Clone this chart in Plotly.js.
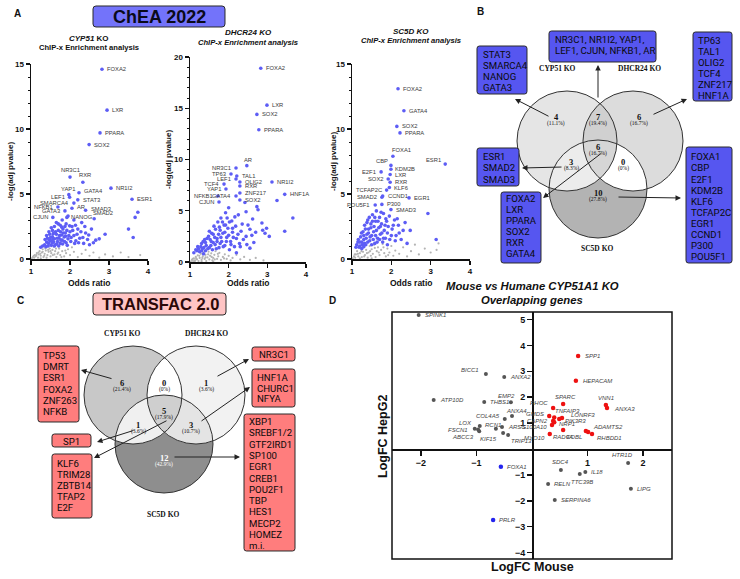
<!DOCTYPE html>
<html><head><meta charset="utf-8">
<script src="https://cdn.plot.ly/plotly-3.0.1.min.js"></script>
<style>html,body{margin:0;padding:0;background:#fff}#plot{width:740px;height:579px}</style>
</head><body><div id="plot"></div>
<script>
// ================= DATA =================
// Panel A1: CYP51 KO (ChEA 2022)
const cypLabNames = ['FOXA2','LXR','PPARA','SOX2','NR3C1','RXR','NR1I2','GATA4','YAP1','LEF1','STAT3','SMARCA4','NFKB1','AR','SMAD3','SMAD2','GATA3','CJUN','NANOG','ESR1'];
const cypLabX = [2.82,2.95,2.77,2.49,2.00,2.33,3.05,2.23,1.97,1.99,2.20,2.10,1.69,2.05,2.40,2.62,1.87,1.56,1.92,3.59];
const cypLabY = [14.6,11.45,9.7,8.8,6.3,5.9,5.45,5.1,4.95,4.75,4.55,4.3,4.0,3.9,3.75,3.1,3.7,3.2,3.2,4.6];
const cypBlue = [[1.25,0.9],[1.3,1.0],[1.35,1.1],[1.38,0.95],[1.4,1.3],[1.42,1.6],[1.45,1.2],[1.48,1.9],[1.5,1.4],[1.52,1.05],[1.55,2.2],[1.55,1.7],[1.58,1.3],[1.6,2.5],[1.6,1.55],[1.62,1.1],[1.65,1.9],[1.65,2.8],[1.68,1.35],[1.7,2.2],[1.72,1.6],[1.75,1.2],[1.75,2.6],[1.78,1.85],[1.8,3.0],[1.8,1.45],[1.82,2.3],[1.85,1.7],[1.88,2.0],[1.9,1.25],[1.9,2.7],[1.95,1.55],[1.95,3.3],[2.0,2.1],[2.02,1.35],[2.05,2.5],[2.1,1.8],[2.1,3.0],[2.15,1.4],[2.2,2.3],[2.25,1.6],[2.3,2.8],[2.35,1.2],[2.4,2.0],[2.45,1.5],[2.55,2.3],[2.6,1.25],[2.66,1.45],[2.75,1.55],[2.9,1.9],[3.74,3.6],[3.67,3.2],[3.5,2.3],[3.62,1.65],
  [1.36,1.5],[1.4,1.8],[1.44,1.0],[1.46,2.1],[1.5,1.65],[1.52,2.4],[1.54,1.25],[1.57,1.95],[1.6,1.0],[1.63,2.1],[1.66,1.15],[1.67,1.6],[1.7,2.7],[1.71,1.0],[1.73,1.8],[1.76,2.1],[1.77,1.45],[1.79,2.45],[1.81,1.15],[1.83,2.0],[1.86,1.35],[1.87,2.5],[1.89,1.75],[1.92,2.2],[1.93,1.05],[1.97,1.8],[1.99,2.55],[2.03,1.65],[2.07,2.2],[2.12,1.2],[2.14,2.6],[2.18,1.9],[2.22,1.25],[2.28,2.1],[2.33,1.65],[2.38,2.5],[2.48,1.85],[2.5,1.1],[1.47,1.45],[1.56,1.5]];
const cypGray = [[1.02,0.05],[1.05,0.15],[1.08,0.1],[1.1,0.3],[1.12,0.2],[1.15,0.45],[1.18,0.1],[1.2,0.35],[1.22,0.6],[1.25,0.25],[1.28,0.5],[1.3,0.75],[1.32,0.15],[1.35,0.4],[1.38,0.65],[1.4,0.9],[1.42,0.3],[1.45,0.55],[1.48,0.8],[1.5,0.2],[1.52,0.45],[1.55,0.7],[1.58,0.95],[1.6,0.35],[1.62,0.6],[1.65,0.15],[1.7,0.5],[1.72,0.8],[1.75,0.3],[1.8,0.6],[1.85,0.2],[1.9,0.45],[1.95,0.75],[2.0,0.3],[2.05,0.9],[2.1,0.55],[2.2,0.15],[2.3,0.4],[2.4,0.7],[2.5,0.25],[2.6,0.5],[2.75,0.1],[2.9,0.35],[3.1,0.2],[3.3,0.5],[3.5,0.15],[3.8,0.3],[1.25,0.05],[1.4,0.1],
  [1.07,0.25],[1.14,0.3],[1.19,0.5],[1.24,0.4],[1.3,0.55],[1.34,0.25],[1.37,0.8],[1.44,0.7],[1.5,0.6],[1.56,0.3],[1.64,0.8],[1.68,0.4],[1.78,0.15],[1.88,0.65]];

// Panel A2: DHCR24 KO
const dhcLabNames = ['FOXA2','LXR','SOX2','PPARA','NR1I2','HNF1A','AR','NR3C1','TP63','TAL1','LEF1','OLIG2','TCF4','RXR','YAP1','ZNF217','NFKB1','GATA4','SOX2','CJUN'];
const dhcLabX = [2.83,2.99,2.73,2.78,3.12,3.45,2.47,2.19,2.06,2.21,2.19,2.29,1.88,2.29,1.93,2.29,1.72,2.19,2.29,1.75];
const dhcLabY = [18.9,15.3,14.4,12.9,7.8,6.6,9.4,9.17,8.59,8.39,8.1,7.8,7.6,7.41,7.12,6.73,6.44,6.44,6.05,5.85];
const dhcBlue = [[1.1,0.9],[1.15,1.2],[1.2,1.5],[1.25,1.0],[1.3,1.8],[1.32,1.3],[1.35,0.8],[1.38,2.2],[1.4,1.1],[1.42,1.6],[1.48,2.5],[1.5,1.4],[1.5,3.0],[1.55,2.0],[1.58,1.2],[1.6,2.7],[1.62,3.5],[1.65,1.7],[1.7,2.3],[1.72,3.9],[1.75,1.4],[1.78,3.1],[1.8,4.3],[1.82,2.0],[1.85,2.8],[1.88,3.6],[1.9,1.6],[1.92,4.8],[1.95,2.4],[1.98,3.3],[2.0,5.3],[2.02,1.2],[2.05,2.0],[2.08,4.0],[2.1,2.9],[2.15,1.5],[2.18,3.5],[2.2,2.3],[2.2,0.9],[2.25,4.6],[2.28,1.8],[2.32,3.0],[2.38,2.2],[2.42,5.8],[2.45,4.9],[2.5,3.6],[2.55,1.35],[2.47,1.7],[2.6,2.6],[2.62,4.2],[2.73,5.4],[2.76,5.1],[2.86,3.8],[2.88,3.1],[2.94,2.8],[2.98,3.3],[3.05,2.5],[3.25,6.0],[3.66,4.3],[3.45,3.0],
  [1.18,1.1],[1.22,1.3],[1.28,1.5],[1.3,1.1],[1.34,2.0],[1.36,1.4],[1.4,1.9],[1.44,2.3],[1.46,1.3],[1.52,2.2],[1.54,1.6],[1.56,2.8],[1.6,1.9],[1.64,2.4],[1.66,3.2],[1.68,1.3],[1.7,2.0],[1.74,2.7],[1.76,3.4],[1.78,1.8],[1.8,2.4],[1.84,3.9],[1.86,1.5],[1.9,2.9],[1.92,3.6],[1.94,2.0],[1.96,4.3],[2.0,2.6],[2.02,3.9],[2.06,1.7],[2.1,3.3],[2.12,2.4],[2.16,4.4],[2.24,2.7],[2.3,1.5],[2.35,3.7],[2.45,2.5],[2.55,3.2],[2.65,1.9],[2.7,2.9]];
const dhcGray = [[1.02,0.05],[1.05,0.2],[1.08,0.1],[1.1,0.35],[1.13,0.15],[1.15,0.5],[1.18,0.25],[1.2,0.65],[1.22,0.1],[1.25,0.4],[1.28,0.8],[1.3,0.2],[1.33,0.55],[1.35,0.95],[1.38,0.3],[1.4,0.7],[1.42,0.1],[1.45,0.45],[1.48,1.0],[1.5,0.25],[1.52,0.6],[1.55,0.85],[1.58,0.15],[1.6,0.4],[1.63,0.7],[1.66,1.05],[1.7,0.3],[1.73,0.55],[1.76,0.9],[1.8,0.2],[1.85,0.5],[1.9,0.75],[1.95,0.3],[2.0,0.6],[2.05,0.15],[2.1,0.4],[2.2,0.7],[2.3,0.25],[2.4,0.5],[2.55,0.2],[2.7,0.4],[2.9,0.15],[1.12,0.05],[1.3,0.05],[1.6,0.05],
  [1.07,0.3],[1.16,0.35],[1.24,0.6],[1.32,0.4],[1.4,0.45],[1.47,0.75],[1.56,0.5],[1.64,0.25],[1.72,0.8],[1.88,0.35]];

// Panel A3: SC5D KO
const scLabNames = ['FOXA2','GATA4','SOX2','PPARA','FOXA1','ESR1','CBP','KDM2B','E2F1','LXR','SOX2','RXR','KLF6','TCFAP2C','CCND1','SMAD2','EGR1','P300','POU5F1','SMAD3'];
const scLabX = [2.17,2.32,2.14,2.22,2.04,3.37,1.99,1.99,1.74,1.97,1.92,1.97,1.95,1.88,1.78,1.76,2.45,1.76,1.59,1.99];
const scLabY = [13.1,11.4,10.2,9.7,7.9,7.3,7.2,6.9,6.7,6.5,6.15,5.9,5.5,5.3,4.85,4.75,4.7,4.2,4.15,3.8];
const scBlue = [[1.1,0.9],[1.15,1.3],[1.2,1.0],[1.22,1.7],[1.25,1.3],[1.25,0.8],[1.28,2.1],[1.3,1.5],[1.32,2.6],[1.35,1.1],[1.38,1.9],[1.4,3.0],[1.42,2.3],[1.45,1.4],[1.48,2.7],[1.5,1.8],[1.52,3.4],[1.55,2.1],[1.58,1.2],[1.6,2.9],[1.62,3.7],[1.65,1.6],[1.68,2.4],[1.7,3.2],[1.72,1.9],[1.75,2.7],[1.78,1.3],[1.8,3.5],[1.82,2.2],[1.85,1.6],[1.88,2.9],[1.9,1.1],[1.92,2.5],[1.95,3.3],[2.0,1.8],[2.05,2.6],[2.1,1.4],[2.15,3.1],[2.2,2.0],[2.25,1.5],[2.35,2.8],[2.4,1.2],[2.48,2.2],[2.93,3.5],[3.14,1.5],
  [1.12,1.1],[1.16,1.5],[1.18,0.9],[1.2,1.3],[1.24,2.0],[1.26,1.1],[1.3,1.8],[1.32,1.2],[1.34,2.3],[1.36,1.6],[1.38,2.8],[1.4,1.3],[1.42,2.0],[1.44,3.2],[1.46,1.7],[1.48,2.4],[1.5,1.1],[1.52,2.9],[1.54,1.5],[1.56,2.5],[1.58,3.2],[1.6,1.8],[1.62,2.2],[1.64,1.3],[1.66,2.9],[1.7,1.5],[1.72,2.5],[1.74,3.6],[1.76,2.0],[1.8,1.6],[1.84,2.6],[1.86,3.1],[1.9,2.0],[1.96,1.5],[2.02,2.3],[2.08,3.0],[2.12,1.8],[2.3,2.2],[2.18,2.6],[1.3,0.95]];
const scGray = [[1.02,0.05],[1.05,0.2],[1.08,0.1],[1.1,0.35],[1.13,0.6],[1.16,0.2],[1.2,0.45],[1.22,0.8],[1.25,0.15],[1.28,0.55],[1.3,0.95],[1.33,0.3],[1.36,0.7],[1.4,0.1],[1.42,0.5],[1.45,1.0],[1.48,0.25],[1.5,0.75],[1.53,0.4],[1.56,1.1],[1.6,0.15],[1.63,0.6],[1.66,0.9],[1.7,0.3],[1.74,0.7],[1.78,1.15],[1.82,0.45],[1.86,0.2],[1.9,0.8],[1.95,0.5],[2.0,1.0],[2.05,0.25],[2.1,0.65],[2.2,0.4],[2.3,0.9],[2.4,0.2],[2.5,0.6],[2.6,1.1],[2.7,0.35],[2.85,0.8],[3.0,0.5],[3.15,0.7],[3.2,1.2],[1.2,0.05],[1.5,0.05],
  [1.07,0.35],[1.15,0.4],[1.24,0.6],[1.31,0.2],[1.38,0.45],[1.46,0.6],[1.58,0.85],[1.68,0.5],[1.8,0.9],[1.92,0.3]];

// Panel B: ChEA Venn
const bCyp = ['STAT3','SMARCA4','NANOG','GATA3'];
const bCypDhcr = ['NR3C1, NR1I2, YAP1,','LEF1, CJUN, NFKB1, AR'];
const bDhcr = ['TP63','TAL1','OLIG2','TCF4','ZNF217','HNF1A'];
const bCypSc = ['ESR1','SMAD2','SMAD3'];
const bAll = ['FOXA2','LXR','PPARA','SOX2','RXR','GATA4'];
const bSc = ['FOXA1','CBP','E2F1','KDM2B','KLF6','TCFAP2C','EGR1','CCND1','P300','POU5F1'];
const bNums = ['4','7','6','6','3','0','10'];
const bPcts = ['(11.1%)','(19.4%)','(16.7%)','(16.7%)','(8.3%)','(0%)','(27.8%)'];
const setNames = ['CYP51 KO','DHCR24 KO','SC5D KO'];

// Panel C: TRANSFAC Venn
const cCyp = ['TP53','DMRT','ESR1','FOXA2','ZNF263','NFKB'];
const cDhcr = ['NR3C1'];
const cDhcrSc = ['HNF1A','CHURC1','NFYA'];
const cCypSc = ['SP1'];
const cAll = ['KLF6','TRIM28','ZBTB14','TFAP2','E2F'];
const cSc = ['XBP1','SREBF1/2','GTF2IRD1','SP100','EGR1','CREB1','POU2F1','TBP','HES1','MECP2','HOMEZ','m.i.'];
const cNums = ['6','0','1','5','1','3','12'];
const cPcts = ['(21.4%)','(0%)','(3.6%)','(17.9%)','(3.6%)','(10.7%)','(42.9%)'];

// Panel D: Mouse vs Human LogFC
const dGrayNames = ['SPINK1','BICC1','ANXA2','ATP10D','THBS1','EMP2','COL4A5','ANXA4','LOX','FSCN1','RCN1','ABCC3','ARSG','','KIF15','TRIP13','SDC4','RELN','SERPINA6','IL18','TTC39B','HTR1D','LIPG'];
const dGrayX = [-2.04,-0.83,-0.5,-1.77,-0.86,-0.38,-0.49,-0.36,-0.97,-1.03,-0.94,-0.95,-0.54,-0.65,-0.52,-0.43,0.52,0.29,0.41,0.96,0.86,1.73,1.78];
const dGrayY = [5.17,2.9,2.78,1.89,1.81,1.8,1.16,1.27,0.75,0.78,0.89,0.68,0.85,0.78,0.62,0.54,-0.81,-1.35,-1.97,-0.89,-0.97,-0.54,-1.54];
const dRedNames = ['SPP1','HEPACAM','SPARC','VNN1','ANXA3','RHOC','GMDS','TNFAIP3','LONRF3','PIK3R3','CAPN2','NRP1','S100A10','RAD9A','MYO10','ADAMTS2','COBL','RHBDD1'];
const dRedX = [0.83,0.79,0.56,1.33,1.35,0.38,0.31,0.40,0.54,0.49,0.38,0.40,0.36,0.56,0.32,0.97,1.01,1.08];
const dRedY = [3.59,2.63,1.74,1.70,1.58,1.58,1.27,1.22,1.20,1.16,1.08,1.03,0.93,0.73,0.58,0.69,0.66,0.58];
const dBlueNames = ['FOXA1','PRLR'];
const dBlueX = [-0.56,-0.70];
const dBlueY = [-0.69,-2.74];
const dXTicks = [-2,-1,1,2];
const dYTicks = [-4,-3,-2,-1,1,2,3,4,5];

// ================= STYLE / LABEL PLACEMENT =================
const L=['left',3,0], R=['right',-3,0];
const cypPos = [L,L,L,L,['center',0,-7],['center',2,-7],L,['left',3,-2],['center',-1,-6],R,L,R,R,['left',3,-1],['left',3,-1],['left',-3,-6],R,R,['left',2,0],L];
const dhcPos = [L,L,L,L,L,L,['center',1,-6],R,R,L,R,L,R,L,R,L,R,R,L,R];
const scPos = [L,L,L,L,['left',-3,-6],['right',-2,-4],['right',-1,-4],['left',2,0],R,L,R,L,L,R,L,R,L,L,R,L];
const dGrayPos = [['left',4,0],['right',-5,-4],['left',4,0],['left',4,0],['left',4,0],['center',-4,-6],['right',-3,-3],['center',4,-5],['right',-4,-7],['right',-5,1],['left',3,-1],['right',-3,6],['left',4,0],null,['right',-4,6],['left',1,6],['center',0,-8],['left',4,0],['left',4,0],['left',4,0],['center',2,8],['center',-6,-8],['left',4,0]];
const dRedPos = [['left',5,0],['left',5,0],['center',2,-7],['center',0,-7],['left',5,1],['right',-3,-5],['right',-3,-2],['left',-1,-6],['left',7,-3],['left',4,2],['right',-3,0],['left',3,2],['right',-3,2],['center',0,7],['right',-3,4],['left',5,-4],['right',-4,5],['left',3,4]];
const dBluePos = [['left',4,0],['left',4,0]];

const W=740,H=579;
const X=v=>v/W, Y=v=>1-v/H;
const SANS='Liberation Sans, Arial, sans-serif', SERIF='Liberation Serif, Times New Roman, serif', ROB='Roboto, Liberation Sans, sans-serif';
const shapes=[], ann=[];

function txt(x,y,text,size,o={}){
  ann.push({xref:'paper',yref:'paper',x:X(x),y:Y(y),text:text,showarrow:false,
    xanchor:o.xa||'center',yanchor:'middle',textangle:o.angle||0,
    font:{family:o.family||SANS,size:size,color:o.color||'#111',weight:o.weight||'normal'}});
}
function arrow(x1,y1,x2,y2){
  ann.push({xref:'paper',yref:'paper',x:X(x2),y:Y(y2),ax:x1-x2,ay:y1-y2,axref:'pixel',ayref:'pixel',
    text:'',showarrow:true,arrowhead:2,arrowsize:1.1,arrowwidth:1,arrowcolor:'#222'});
}
const P=(x,y)=>X(x).toFixed(5)+','+Y(y).toFixed(5);
function rrect(x0,y0,x1,y1,r,fill){
  const d=`M${P(x0+r,y0)} L${P(x1-r,y0)} Q${P(x1,y0)} ${P(x1,y0+r)} L${P(x1,y1-r)} Q${P(x1,y1)} ${P(x1-r,y1)} L${P(x0+r,y1)} Q${P(x0,y1)} ${P(x0,y1-r)} L${P(x0,y0+r)} Q${P(x0,y0)} ${P(x0+r,y0)} Z`;
  shapes.push({type:'path',xref:'paper',yref:'paper',path:d,fillcolor:fill,line:{color:'#2a2a2a',width:1}});
}
function circ(c,fill,line){
  shapes.push({type:'circle',xref:'paper',yref:'paper',x0:X(c[0]-c[2]),x1:X(c[0]+c[2]),y0:Y(c[1]+c[2]),y1:Y(c[1]-c[2]),
    fillcolor:fill||'rgba(0,0,0,0)',line:line?{color:'#333',width:1}:{width:0}});
}
function inter(cs,fill){
  let pts=[];
  cs.forEach((c,i)=>{for(let k=0;k<720;k++){const a=k*Math.PI/360;const x=c[0]+c[2]*Math.cos(a),y=c[1]+c[2]*Math.sin(a);
    if(cs.every((o,j)=>j===i||Math.hypot(x-o[0],y-o[1])<=o[2]+0.01))pts.push([x,y]);}});
  const mx=pts.reduce((s,p)=>s+p[0],0)/pts.length,my=pts.reduce((s,p)=>s+p[1],0)/pts.length;
  pts.sort((a,b)=>Math.atan2(a[1]-my,a[0]-mx)-Math.atan2(b[1]-my,b[0]-mx));
  shapes.push({type:'path',xref:'paper',yref:'paper',path:'M'+pts.map(p=>P(p[0],p[1])).join(' L')+' Z',fillcolor:fill,line:{width:0}});
}
function geneBox(x0,y0,x1,y1,lines,fill,tx,ty,sp,size,align){
  rrect(x0,y0,x1,y1,2.5,fill);
  lines.forEach((g,i)=>txt(tx,ty+i*sp,g,size,{family:ROB,xa:align||'left',color:'#0a0a0a'}));
}
function venn(nums,pcts,numPos,col){
  nums.forEach((n,i)=>{txt(numPos[i][0],numPos[i][1],'<b>'+n+'</b>',8.5,{family:SERIF,color:col[i]});
    txt(numPos[i][0],numPos[i][1]+6.5,pcts[i],5.5,{family:SERIF,color:col[i]});});
}

// ================= PANEL LETTERS / TITLES =================
txt(17,13,'<b>A</b>',10); txt(480,12,'<b>B</b>',10); txt(20,300,'<b>C</b>',10); txt(332,300,'<b>D</b>',10);
rrect(93,6,225,27,3,'#7373fa'); txt(159,17,'<b>ChEA 2022</b>',18,{color:'#0a0a1a'});
rrect(93,293,226,315,3,'#ffc4c4'); txt(160,304,'<b>TRANSFAC 2.0</b>',16.5,{color:'#2b0808'});

// ================= PANEL A =================
const panels=[
 {xa:'x',ya:'y',names:cypLabNames,lx:cypLabX,ly:cypLabY,pos:cypPos,blue:cypBlue,gray:cypGray,
  t1:'<b><i>CYP51</i> KO</b>',t2:'<b>ChIP-x Enrichment analysis</b>',ty:[38,48],cx:89,yl:[10,172]},
 {xa:'x2',ya:'y2',names:dhcLabNames,lx:dhcLabX,ly:dhcLabY,pos:dhcPos,blue:dhcBlue,gray:dhcGray,
  t1:'<b><i>DHCR24 KO</i></b>',t2:'<b><i>ChIP-x Enrichment analysis</i></b>',ty:[32,42],cx:248,yl:[169,160]},
 {xa:'x3',ya:'y3',names:scLabNames,lx:scLabX,ly:scLabY,pos:scPos,blue:scBlue,gray:scGray,
  t1:'<b><i>SC5D KO</i></b>',t2:'<b><i>ChIP-x Enrichment analysis</i></b>',ty:[31,41],cx:411,yl:[333,162]}
];
const traces=[];
panels.forEach(p=>{
  traces.push({type:'scatter',mode:'markers',xaxis:p.xa,yaxis:p.ya,x:p.gray.map(v=>v[0]),y:p.gray.map(v=>v[1]),
    marker:{size:2.2,color:'#b4b4b4'},cliponaxis:false,hoverinfo:'skip'});
  traces.push({type:'scatter',mode:'markers',xaxis:p.xa,yaxis:p.ya,x:p.blue.map(v=>v[0]).concat(p.lx),y:p.blue.map(v=>v[1]).concat(p.ly),
    marker:{size:3.6,color:'#5d5df5'},cliponaxis:false,hoverinfo:'skip'});
  p.names.forEach((n,i)=>{const o=p.pos[i];
    ann.push({xref:p.xa,yref:p.ya,x:p.lx[i],y:p.ly[i],text:n,showarrow:false,xanchor:o[0],yanchor:'middle',
      xshift:o[1],yshift:-o[2],font:{family:SANS,size:5.8,color:'#3a3a3a'}});});
  txt(p.cx,p.ty[0],p.t1,8); txt(p.cx,p.ty[1],p.t2,7.6);
  txt(p.cx,283,'<b>Odds ratio</b>',8.5);
  txt(p.yl[0],p.yl[1],'<b>-log(adj pvalue)</b>',8,{angle:-90});
});

// ================= PANEL B Venn =================
const bC=[[567,141,50],[633,141,50],[598,189,49]];
circ(bC[2],'#b3b3b3'); circ(bC[0],'#e5e5e5'); circ(bC[1],'#dcdcdc');
inter([bC[0],bC[1]],'#d0d0d0'); inter([bC[0],bC[2]],'#ececec'); inter([bC[1],bC[2]],'#ffffff');
inter(bC,'#d6d6d6');
bC.forEach(c=>circ(c,null,true));
venn(bNums,bPcts,[[556,117],[598,117],[639,117],[598,147],[571,162],[623,162],[598,193]],['#111','#111','#111','#111','#111','#111','#111']);
txt(557,69,'<b>'+setNames[0]+'</b>',7.5,{family:SERIF}); txt(639,69,'<b>'+setNames[1]+'</b>',7.5,{family:SERIF}); txt(597,248,'<b>'+setNames[2]+'</b>',7.5,{family:SERIF});
const BLUE='#5656f0';
geneBox(477,46,527,94,bCyp,BLUE,480.5,54.5,11,9.6);
geneBox(549,31,656,62,bCypDhcr,BLUE,553,40,10.5,9.6);
geneBox(693,32,732,101,bDhcr,BLUE,695.5,40.5,11,9.6);
geneBox(477,148,519,186,bCypSc,BLUE,480.5,157,11,9.6);
geneBox(501,192,541,263,bAll,BLUE,504,198.5,11,9.6);
geneBox(686,147,732,263,bSc,BLUE,688.5,157,11,9.6);
arrow(550,117,515,99); arrow(598,99,598,65); arrow(652,115,687,99);
arrow(563,167,522,168); arrow(603,152,543,198); arrow(617,197,681,198);

// ================= PANEL C Venn =================
const cC=[[133,395,49],[196,395,49],[164,444,49]];
circ(cC[2],'#8e8e8e'); circ(cC[0],'#c8c8c8'); circ(cC[1],'#f2f2f2');
inter([cC[0],cC[1]],'#ffffff'); inter([cC[0],cC[2]],'#f0f0f0'); inter([cC[1],cC[2]],'#e4e4e4');
inter(cC,'#cfcfcf');
cC.forEach(c=>circ(c,null,true));
venn(cNums,cPcts,[[122,383],[164,383],[206,383],[164,411],[138,425],[191,425],[164,458]],['#111','#111','#111','#111','#111','#111','#ffffff']);
txt(122,333,'<b>'+setNames[0]+'</b>',7.5,{family:SERIF}); txt(207,333,'<b>'+setNames[1]+'</b>',7.5,{family:SERIF}); txt(163,514,'<b>'+setNames[2]+'</b>',7.5,{family:SERIF});
const RED='#ff7d7d';
geneBox(38,346,79,422,cCyp,RED,41,355.5,11.2,9.6);
geneBox(52,434,91,447,cCypSc,RED,71.5,441,11,9.6,'center');
geneBox(52,454,92,518,cAll,RED,55,463,11,9.6);
geneBox(252,347,295,361,cDhcr,RED,273.5,354,11,9.6,'center');
geneBox(252,369,295,407,cDhcrSc,RED,254.5,377.5,10.6,9.6);
geneBox(244,414,295,551,cSc,RED,246.5,421.5,11.3,9.6);
arrow(113,379,81,370); arrow(216,377,249,359); arrow(200,422,250,387);
arrow(135,430,97,442); arrow(168,420,94,458); arrow(173,457,240,457);

// ================= PANEL D =================
txt(532,286,'<b><i>Mouse vs Humane CYP51A1 KO</i></b>',11.3);
txt(532,300,'<b><i>Overlapping genes</i></b>',11.3);
txt(532,567,'<b>LogFC Mouse</b>',12.5);
txt(383,437,'<b>LogFC HepG2</b>',12.5,{angle:-90});
shapes.push({type:'rect',xref:'paper',yref:'paper',x0:X(392),x1:X(672),y0:Y(559),y1:Y(312),line:{color:'#111',width:1.5},fillcolor:'rgba(0,0,0,0)'});
function dTrace(xs,ys,col,sz){traces.push({type:'scatter',mode:'markers',xaxis:'x4',yaxis:'y4',x:xs,y:ys,marker:{size:sz,color:col},cliponaxis:false,hoverinfo:'skip'});}
dTrace(dGrayX,dGrayY,'#555555',4); dTrace(dRedX,dRedY,'#ee1111',4.5); dTrace(dBlueX,dBlueY,'#2424ee',4.5);
function dLabels(names,xs,ys,pos){names.forEach((n,i)=>{const o=pos[i]; if(!n||!o)return;
  ann.push({xref:'x4',yref:'y4',x:xs[i],y:ys[i],text:'<i>'+n+'</i>',showarrow:false,xanchor:o[0],yanchor:'middle',
    xshift:o[1],yshift:-o[2],font:{family:SANS,size:6,color:'#444'}});});}
dLabels(dGrayNames,dGrayX,dGrayY,dGrayPos); dLabels(dRedNames,dRedX,dRedY,dRedPos); dLabels(dBlueNames,dBlueX,dBlueY,dBluePos);

// ================= AXES =================
const tf={family:SANS,size:8,color:'#111',weight:'bold'};
function ax(dom,range,anchor,dtick,tick0,minor){
  const a={domain:dom,range:range,anchor:anchor,tickmode:'linear',tick0:tick0,dtick:dtick,ticks:'outside',ticklen:4,tickwidth:1.2,
    tickcolor:'#111',showline:true,linewidth:1.5,linecolor:'#111',showgrid:false,zeroline:false,tickfont:tf,fixedrange:true};
  if(minor)a.minor={tick0:0,dtick:minor,ticks:'outside',ticklen:2,tickwidth:1,tickcolor:'#111',showgrid:false};
  return a;
}
const layout={width:W,height:H,margin:{l:0,r:0,t:0,b:0},showlegend:false,paper_bgcolor:'#fff',plot_bgcolor:'rgba(0,0,0,0)',
  xaxis:ax([X(31),X(148)],[1,4],'y',1,1), yaxis:ax([Y(259),Y(64)],[0,15],'x',5,0,1),
  xaxis2:ax([X(190),X(306)],[1,4],'y2',1,1), yaxis2:ax([Y(262),Y(57)],[0,20],'x2',5,0,1),
  xaxis3:ax([X(352),X(470)],[1,4],'y3',1,1), yaxis3:ax([Y(259),Y(64)],[0,15],'x3',5,0,1),
  xaxis4:{domain:[X(392),X(672)],range:[-2.52,2.52],anchor:'free',position:Y(449),tickmode:'array',tickvals:dXTicks,
    ticks:'outside',ticklen:5,tickwidth:1.5,tickcolor:'#111',showline:true,linewidth:1.5,linecolor:'#111',showgrid:false,zeroline:false,
    tickfont:{family:SANS,size:9,color:'#111',weight:'bold'},fixedrange:true},
  yaxis4:{domain:[Y(559),Y(312)],range:[-4.25,5.29],anchor:'free',position:X(532),tickmode:'array',tickvals:dYTicks,
    ticks:'outside',ticklen:5,tickwidth:1.5,tickcolor:'#111',showline:true,linewidth:1.5,linecolor:'#111',showgrid:false,zeroline:false,
    tickfont:{family:SANS,size:9,color:'#111',weight:'bold'},fixedrange:true},
  shapes:shapes, annotations:ann};
Plotly.newPlot('plot',traces,layout,{staticPlot:true,displayModeBar:false});
</script></body></html>
